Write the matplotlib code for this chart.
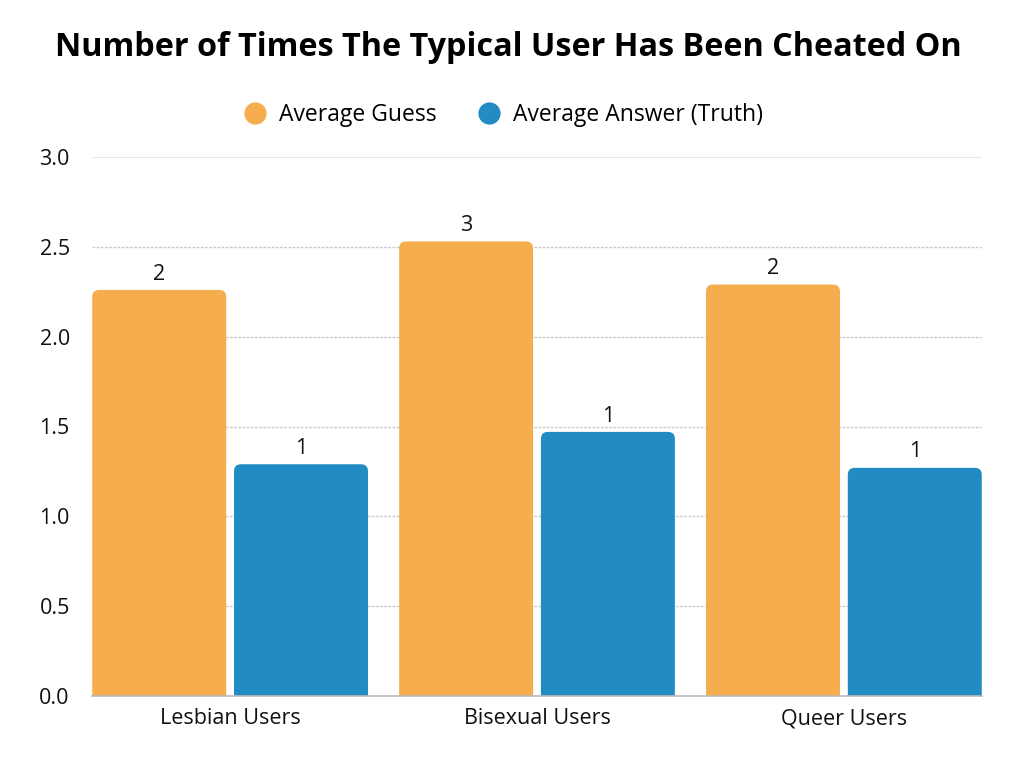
import matplotlib
matplotlib.use("Agg")
import matplotlib.pyplot as plt
from matplotlib.patches import PathPatch
from matplotlib.path import Path
from matplotlib.lines import Line2D
import numpy as np

categories = ["Lesbian Users", "Bisexual Users", "Queer Users"]
guess = [2.26, 2.53, 2.29]
truth = [1.29, 1.47, 1.27]
guess_labels = ["2", "3", "2"]
truth_labels = ["1", "1", "1"]
series_names = ["Average Guess", "Average Answer (Truth)"]
colors = ["#F6AD4D", "#228BC3"]
yticks = [0.0, 0.5, 1.0, 1.5, 2.0, 2.5, 3.0]

plt.rcParams['font.family'] = ['Open Sans', 'DejaVu Sans']

fig = plt.figure(figsize=(10.24, 7.68), dpi=100)
ax = fig.add_axes([92/1024, 1-696/768, 890/1024, (696-157)/768])

x = np.arange(len(categories))
width = 0.4365
offset = 0.231

rx = 7 / 307.0
ry = 7 * 3.0 / 539.0

def top_rounded_path(x0, y0, w, h):
    x1, y1 = x0 + w, y0 + h
    verts = [(x0, y0), (x0, y1 - ry), (x0, y1), (x0 + rx, y1),
             (x1 - rx, y1), (x1, y1), (x1, y1 - ry), (x1, y0), (x0, y0)]
    codes = [Path.MOVETO, Path.LINETO, Path.CURVE3, Path.CURVE3,
             Path.LINETO, Path.CURVE3, Path.CURVE3, Path.LINETO, Path.CLOSEPOLY]
    return Path(verts, codes)

def rounded_bars(xs, vals, color, labels):
    bars = ax.bar(xs, vals, width=width, color=color, alpha=0)
    for b, lab in zip(bars, labels):
        x0, y0, w, h = b.get_x(), b.get_y(), b.get_width(), b.get_height()
        ax.add_patch(PathPatch(top_rounded_path(x0, y0, w, h), facecolor=color,
                               edgecolor="none", zorder=3))
        ax.text(x0 + w/2, y0 + h + 0.03, lab, ha="center", va="bottom",
                fontsize=15.5, color="#111111", zorder=4)

rounded_bars(x - offset, guess, colors[0], guess_labels)
rounded_bars(x + offset, truth, colors[1], truth_labels)

ax.set_xlim(-0.45, 2.45)
ax.set_ylim(0, 3.0)
ax.set_yticks(yticks)
ax.set_yticklabels([f"{v:.1f}" for v in yticks])
ax.set_xticks(x)
ax.set_xticklabels(categories)
ax.tick_params(axis="both", length=0, labelsize=15.5, colors="#111111")
ax.tick_params(axis="y", pad=16)
ax.tick_params(axis="x", pad=9)

for v in yticks[1:-1]:
    ax.axhline(v, color="#cccccc", lw=1, ls=(0, (2, 1)), zorder=1)
ax.axhline(3.0, color="#e2e2e2", lw=1.2, zorder=1)

for s in ["top", "right", "left"]:
    ax.spines[s].set_visible(False)
ax.spines["bottom"].set_color("#bbbbbb")
ax.spines["bottom"].set_linewidth(1.2)
ax.spines["bottom"].set_zorder(5)

fig.text(508/1024, 1-48/768, "Number of Times The Typical User Has Been Cheated On",
         ha="center", va="center", fontsize=23.3, fontweight="bold", color="#000000")

handles = [Line2D([0], [0], marker="o", color="w", markerfacecolor=c,
                  markersize=17, lw=0) for c in colors]
fig.legend(handles, series_names, loc="center", bbox_to_anchor=(502/1024, 1-115/768),
           ncol=2, frameon=False, fontsize=16.5, handletextpad=0.45, columnspacing=1.7,
           handlelength=1.2)

fig.savefig("out.png", dpi=100)
